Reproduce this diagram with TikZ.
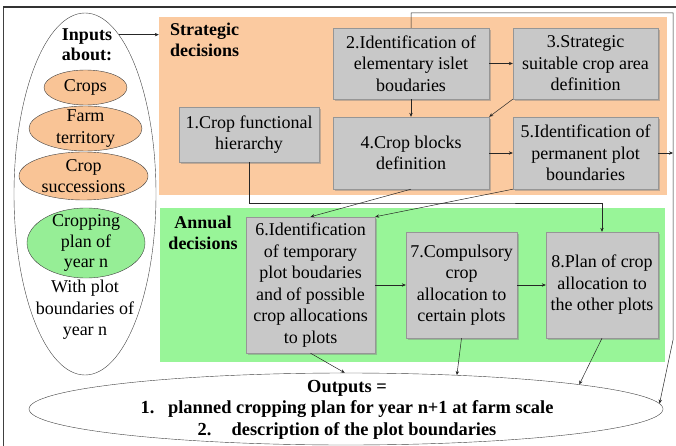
\documentclass[tikz,border=0pt]{standalone}
\usepackage{fontspec}
\setmainfont{Liberation Serif}
\usetikzlibrary{arrows.meta,shapes.geometric,shadows}

\definecolor{stratfill}{RGB}{251,202,160}
\definecolor{annfill}{RGB}{152,245,152}
\definecolor{inorange}{RGB}{249,196,150}
\definecolor{ingreen}{RGB}{150,238,150}
\definecolor{boxfill}{RGB}{200,200,200}
\definecolor{boxline}{RGB}{150,150,150}

\begin{document}
\begin{tikzpicture}[
  x=1pt,y=-1pt,
  >={Stealth[length=4pt,width=3.4pt]},
  font=\fontsize{18}{21.5}\selectfont,
  panel/.style={inner sep=0pt, fill=#1},
  box/.style={draw=boxline, fill=boxfill, align=center, inner sep=1pt, drop shadow={shadow xshift=1.6pt, shadow yshift=-1.6pt, opacity=.45}},
  inell/.style={ellipse, draw=black!75, inner sep=0pt},
  txt/.style={align=center, inner sep=0pt},
  head/.style={txt, font=\fontsize{18}{21}\selectfont\bfseries},
  arrow/.style={->, black!85, line width=.5pt}
]
\useasboundingbox (0,0) rectangle (676,446);
\draw[black!75, line width=.6pt] (3,446) -- (3,7);
\draw[black!80, line width=1.4pt] (3,7) -- (676,7);

% Decision panels.
\node[panel=stratfill, minimum width=508pt, minimum height=178pt] (strat) at (413,106) {};
\node[panel=annfill, minimum width=505pt, minimum height=154pt] (annual) at (412.5,285) {};
\node[head, align=left, anchor=north west] (strathead) at (170,23) {Strategic\\decisions};
\node[head] (annhead) at (203,232.5) {Annual\\decisions};

% Inputs.
\node[inell, minimum width=142pt, minimum height=362pt] (inputs) at (85,194) {};
\node[head, font=\fontsize{18}{20}\selectfont\bfseries] (inhead) at (87,45) {Inputs\\about:};
\node[inell, fill=inorange, minimum width=83pt, minimum height=35pt] (crops) at (85.5,87.5) {};
\node[txt] at (crops) {Crops};
\node[inell, fill=inorange, minimum width=113pt, minimum height=45pt] (farm) at (85.5,128.5) {};
\node[txt] at (farm) {Farm\\territory};
\node[inell, fill=inorange, minimum width=129pt, minimum height=48pt] (succ) at (83.5,176) {};
\node[txt] at (succ) {Crop\\successions};
\node[inell, fill=ingreen, minimum width=118pt, minimum height=70pt] (plan) at (86,243) {};
\node[txt, font=\fontsize{18}{20.5}\selectfont] at (plan) {Cropping\\plan of\\year n};
\node[txt] (bounds) at (85,310) {With plot\\boundaries of\\year n};

% Strategic steps.
\node[box, minimum width=140pt, minimum height=55pt] (hier) at (249,134.5) {1.Crop functional\\hierarchy};
\node[box, minimum width=156pt, minimum height=71pt] (islet) at (411,63.5) {2.Identification of\\elementary islet\\boudaries};
\node[box, minimum width=145pt, minimum height=71pt] (suit) at (585.5,63.5) {3.Strategic\\suitable crop area\\definition};
\node[box, minimum width=156pt, minimum height=72pt] (blocks) at (411,153) {4.Crop blocks\\definition};
\node[box, minimum width=145pt, minimum height=72pt] (perm) at (585.5,153) {5.Identification of\\permanent plot\\boundaries};

% Annual steps.
\node[box, minimum width=129pt, minimum height=136pt] (temp) at (310.5,285) {6.Identification\\of temporary\\plot boudaries\\and of possible\\crop allocations\\to plots};
\node[box, minimum width=111pt, minimum height=106pt] (comp) at (461.5,285) {7.Compulsory\\crop\\allocation to\\certain plots};
\node[box, minimum width=112pt, minimum height=106pt] (other) at (602,285) {8.Plan of crop\\allocation to\\the other plots};

% Outputs.
\node[inell, minimum width=634pt, minimum height=72pt] (outputs) at (346,409) {};
\node[txt, font=\fontsize{18.4}{21.5}\selectfont\bfseries] (outtxt) at (347,409.5) {Outputs =\\1.\hspace{0.75em}planned cropping plan for year n+1 at farm scale\\2.\hspace{1.1em}description of the plot boundaries};

% Connectors.
\coordinate (rtop) at (673,13);
\coordinate (rlow) at (673,340);
\coordinate (lane) at (430,203);
\draw[arrow] (inputs.78.6) -- (inputs.78.6 -| strat.west);
\draw[arrow] (islet) -- (suit);
\draw[arrow] (islet) -- (blocks);
\draw[arrow] (suit.south west) -- (blocks.north east);
\draw[arrow] (blocks) -- (perm);
\draw[arrow] (perm.east) -- (perm.east -| rtop);
\draw[arrow] (islet.north) |- (rtop) -- (rlow) -- (outputs.1);
\draw[arrow] (hier.south) |- (lane) -| (other.north);
\draw[arrow] (blocks.south) -- (temp.north);
\draw[arrow] (perm.south west) -- (temp.north east);
\draw[arrow] (temp) -- (comp);
\draw[arrow] (comp) -- (other);
\draw[arrow] (temp.south) -- (outputs.92);
\draw[arrow] (comp.south) -- (outputs.17);
\draw[arrow] (other.south) -- (outputs.6.5);
\end{tikzpicture}
\end{document}
